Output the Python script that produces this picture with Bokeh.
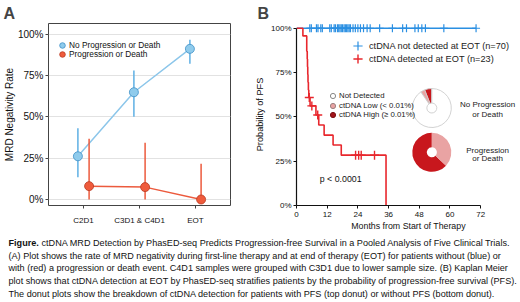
import math
from bokeh.plotting import figure
from bokeh.models import (Range1d, FactorRange, FixedTicker, Legend, LegendItem,
                          ColumnDataSource)
from bokeh.layouts import row, column
from bokeh.transform import dodge
from bokeh.embed import file_html
from bokeh.resources import INLINE
from bokeh.core.properties import value

# ---------------- data: panel A ----------------
timepoints = ["C2D1", "C3D1 & C4D1", "EOT"]
noprog_rate = [26.2, 65.0, 91.3]
noprog_lo = [13.5, 50.1, 82.2]
noprog_hi = [43.2, 78.2, 96.8]
prog_rate = [8.1, 7.5, 0.0]
prog_lo = [0.0, 0.0, 0.0]
prog_hi = [36.8, 34.4, 21.6]
pct_ticks = [0, 25, 50, 75, 100]
pct_labels = ["0%", "25%", "50%", "75%", "100%"]

# ---------------- data: panel B ----------------
month_ticks = [0, 12, 24, 36, 48, 60, 72]
neg_time = [0, 70.2]
neg_surv = [100, 100]
neg_censor_time = [5.2, 5.8, 7.8, 8.4, 9.5, 10.1, 13.0, 13.6, 14.7, 15.2, 16.0, 16.5,
                   17.0, 17.5, 18.0, 18.6, 19.1, 19.6, 20.1, 20.6, 21.1, 22.1, 23.0,
                   24.0, 25.0, 26.2, 27.6, 28.8, 32.5, 37.5, 41.5, 43.0, 46.3, 47.6,
                   49.0, 50.4, 57.6, 70.2]
neg_censor_surv = [100] * len(neg_censor_time)
pos_time = [0, 2.5, 4.0, 4.2, 4.3, 4.4, 4.5, 4.65, 4.8, 5.3, 7.6, 8.7, 10.8, 14.3, 17.5, 35.0]
pos_surv = [100, 95.7, 87.0, 82.6, 78.3, 73.9, 69.6, 65.2, 60.9, 56.2, 51.1, 45.4, 39.7,
            34.1, 28.4, 0.0]
pos_censor_time = [5.0, 6.0, 8.3, 23.1, 24.3, 25.3, 30.5]
pos_censor_surv = [60.9, 56.2, 51.1, 28.4, 28.4, 28.4, 28.4]

ctdna_levels = ["ctDNA High (\u2265 0.01%)", "ctDNA Low (< 0.01%)", "Not Detected"]
share_no_prog = [0.06, 0.035, 0.905]
share_prog = [0.63, 0.37, 0.0]

caption_lines = [
    "ctDNA MRD Detection by PhasED-seq Predicts Progression-free Survival in a Pooled Analysis of Five Clinical Trials.",
    "(A) Plot shows the rate of MRD negativity during first-line therapy and at end of therapy (EOT) for patients without (blue) or",
    "with (red) a progression or death event. C4D1 samples were grouped with C3D1 due to lower sample size. (B) Kaplan Meier",
    "plot shows that ctDNA detection at EOT by PhasED-seq stratifies patients by the probability of progression-free survival (PFS).",
    "The donut plots show the breakdown of ctDNA detection for patients with PFS (top donut) or without PFS (bottom donut).",
]

FONT = "Liberation Sans"
BLUE_A_LINE = "#8cc6ea"
BLUE_A_ERR = "#5fb0e4"
BLUE_A_FILL = "#8fcbec"
BLUE_A_EDGE = "#3d8fc6"
RED_A_LINE = "#ec5a3d"
RED_A_FILL = "#ef5b3c"
RED_A_EDGE = "#b83a22"
KM_BLUE = "#2a8fe2"
KM_RED = "#e8272d"
HIGH = "#c8171d"
LOW = "#e9a3a3"
NAN = float("nan")


def one_legend(fig, label, renderer, loc, glyph, size, standoff, color="#111111"):
    leg = Legend(items=[LegendItem(label=label, renderers=[renderer])], location=loc,
                 padding=0, margin=0, spacing=0, glyph_width=glyph, glyph_height=glyph,
                 label_height=8, label_standoff=standoff, label_text_font=FONT,
                 label_text_font_size=size, label_text_color=color,
                 label_text_baseline="middle",
                 border_line_color=None, background_fill_alpha=0)
    fig.add_layout(leg)


# ================= Panel A =================
pA = figure(width=252, height=236,
            x_range=FactorRange(factors=timepoints, range_padding=0.125,
                                range_padding_units="absolute"),
            y_range=Range1d(-3.64, 106.67),
            output_backend="svg", toolbar_location=None,
            min_border_left=48, min_border_right=22, min_border_top=23, min_border_bottom=31)
srcA = ColumnDataSource(dict(tp=timepoints, nr=noprog_rate, nlo=noprog_lo, nhi=noprog_hi,
                             pr=prog_rate, plo=prog_lo, phi=prog_hi))
xb = dodge("tp", -0.1, range=pA.x_range)
xr = dodge("tp", 0.1, range=pA.x_range)
pA.segment(x0=xb, y0="nlo", x1=xb, y1="nhi", source=srcA, line_color=BLUE_A_ERR, line_width=1.5)
pA.line(x=xb, y="nr", source=srcA, line_color=BLUE_A_LINE, line_width=1.5)
rb = pA.scatter(x=xb, y="nr", source=srcA, size=9, fill_color=BLUE_A_FILL,
                line_color=BLUE_A_EDGE, line_width=0.8)
pA.segment(x0=xr, y0="plo", x1=xr, y1="phi", source=srcA, line_color=RED_A_LINE, line_width=1.5)
pA.line(x=xr, y="pr", source=srcA, line_color=RED_A_LINE, line_width=1.5)
rr = pA.scatter(x=xr, y="pr", source=srcA, size=9, fill_color=RED_A_FILL,
                line_color=RED_A_EDGE, line_width=0.8)

pA.outline_line_color = "#444444"
pA.outline_line_width = 1
pA.xgrid.visible = False
pA.ygrid.grid_line_color = "#e2e2e2"
pA.yaxis.ticker = FixedTicker(ticks=pct_ticks)
pA.yaxis.major_label_overrides = dict(zip(pct_ticks, pct_labels))
for ax in (pA.xaxis[0], pA.yaxis[0]):
    ax.axis_line_color = None
    ax.major_tick_in = 0
    ax.major_tick_out = 3
    ax.major_tick_line_color = "#444444"
    ax.minor_tick_line_color = None
    ax.major_label_text_font = FONT
    ax.major_label_text_color = "#111111"
    ax.major_label_standoff = 2
pA.yaxis.major_label_text_font_size = "10px"
pA.xaxis.major_label_text_font_size = "8px"
pA.xaxis.major_label_standoff = 7
pA.yaxis.axis_label = "MRD Negativity Rate"
pA.yaxis.axis_label_text_font = FONT
pA.yaxis.axis_label_text_font_size = "10px"
pA.yaxis.axis_label_text_font_style = "normal"
pA.yaxis.axis_label_text_color = "#111111"
pA.yaxis.axis_label_standoff = 0

one_legend(pA, "No Progression or Death", rb, (7, 153), 14, "8.3px", -2)
one_legend(pA, "Progression or Death", rr, (7, 144), 14, "8.3px", -2)

pA.title.text = "A"
pA.title.text_font = FONT
pA.title.text_font_size = "16px"
pA.title.text_font_style = "bold"
pA.title.text_line_height = 1.0
pA.title.align = "left"
pA.title.vertical_align = "top"
pA.title.offset = -45
pA.title.standoff = 0

# ================= Panel B =================
pB = figure(width=268, height=236, x_range=Range1d(0, 87.57), y_range=Range1d(0, 102.69),
            output_backend="svg", toolbar_location=None,
            min_border_left=43, min_border_right=0, min_border_top=18, min_border_bottom=27)
pB.line(x=neg_time, y=neg_surv, line_color=KM_BLUE, line_width=1.6)
cb = pB.scatter(x=neg_censor_time, y=neg_censor_surv, marker="cross", size=8,
                line_color=KM_BLUE, line_width=1.2)
pB.step(x=pos_time, y=pos_surv, mode="after", line_color=KM_RED, line_width=1.6)
cr = pB.scatter(x=pos_censor_time, y=pos_censor_surv, marker="cross", size=9,
                line_color=KM_RED, line_width=1.4)

# donuts
DONUT_X = 52.9
DONUT_Y = [55.0, 30.0]
level_colors = [HIGH, LOW, "#ffffff"]
ws, we, wx, wy, wc, wl = [], [], [], [], [], []
for shares, cy, la in ((share_no_prog, DONUT_Y[0], 1.0), (share_prog, DONUT_Y[1], 0.0)):
    a = math.pi / 2
    for s, col in zip(shares, level_colors):
        if s <= 0:
            continue
        ws.append(a)
        a += 2 * math.pi * s
        we.append(a)
        wx.append(DONUT_X)
        wy.append(cy)
        wc.append(col)
        wl.append(la)
srcD = ColumnDataSource(dict(x=wx, y=wy, s=ws, e=we, c=wc, la=wl))
pB.annular_wedge(x="x", y="y", inner_radius=5, outer_radius=19.5,
                 inner_radius_units="screen", outer_radius_units="screen",
                 start_angle="s", end_angle="e", fill_color="c", line_color="#cdcdcd",
                 line_alpha="la", line_width=0.9, source=srcD)

# legend-only keys (no visible data point)
lh = pB.scatter(x=[NAN], y=[NAN], marker="circle", fill_color="#a3141a", line_color="#7a1015")
ll = pB.scatter(x=[NAN], y=[NAN], marker="circle", fill_color=LOW, line_color="#9a8080")
ln = pB.scatter(x=[NAN], y=[NAN], marker="circle", fill_color="white", line_color="#888888")

one_legend(pB, "ctDNA not detected at EOT (n=70)", cb, (50, 148), 23, "9.2px", -1, "#222222")
one_legend(pB, "ctDNA detected at EOT (n=23)", cr, (50, 135), 23, "9.2px", -1, "#222222")
one_legend(pB, ctdna_levels[2], ln, (30, 103), 13, "7.8px", 0, "#222222")
one_legend(pB, ctdna_levels[1], ll, (30, 93), 13, "7.8px", 0, "#222222")
one_legend(pB, ctdna_levels[0], lh, (30, 84), 13, "7.8px", 0, "#222222")

pB.text(x=[74.7, 74.7, 74.7, 74.7], y=[57.0, 51.6, 31.2, 26.3],
        text=["No Progression", "or Death", "Progression", "or Death"],
        text_align="center", text_baseline="middle", text_font=value(FONT),
        text_font_size="8px", text_color="#222222")
pB.text(x=[9.1], y=[14.7], text=["p < 0.0001"], text_align="left", text_baseline="middle",
        text_font=value(FONT), text_font_size="8.8px", text_color="#111111")

pB.title.text = "B"
pB.title.text_font = FONT
pB.title.text_font_size = "16px"
pB.title.text_font_style = "bold"
pB.title.text_line_height = 1.0
pB.title.align = "left"
pB.title.vertical_align = "top"
pB.title.offset = -39
pB.title.standoff = 0

pB.outline_line_color = None
pB.grid.visible = False
pB.xaxis.ticker = FixedTicker(ticks=month_ticks)
pB.yaxis.ticker = FixedTicker(ticks=pct_ticks)
pB.yaxis.major_label_overrides = dict(zip(pct_ticks, pct_labels))
pB.xaxis.bounds = (0, 72)
pB.yaxis.bounds = (0, 100)
pB.xaxis.axis_label = "Months from Start of Therapy"
pB.yaxis.axis_label = "Probability of PFS"
for ax in (pB.xaxis[0], pB.yaxis[0]):
    ax.axis_line_color = "#111111"
    ax.axis_line_width = 1.2
    ax.major_tick_in = 0
    ax.major_tick_out = 3
    ax.major_tick_line_color = "#111111"
    ax.minor_tick_line_color = None
    ax.major_label_text_font = FONT
    ax.major_label_text_font_size = "8px"
    ax.major_label_text_color = "#111111"
    ax.axis_label_text_font = FONT
    ax.axis_label_text_font_style = "normal"
    ax.axis_label_text_color = "#111111"
pB.xaxis.major_label_standoff = 3
pB.xaxis.axis_label_standoff = 1
pB.yaxis.major_label_standoff = 2
pB.yaxis.axis_label_standoff = 3
pB.xaxis.axis_label_text_font_size = "8.8px"
pB.yaxis.axis_label_text_font_size = "9.2px"

# ================= Caption =================
pC = figure(width=520, height=66, x_range=Range1d(0, 520), y_range=Range1d(66, 0),
            output_backend="svg", toolbar_location=None, min_border=0)
pC.axis.visible = False
pC.grid.visible = False
pC.outline_line_color = None
CAP_SIZE = 9.1
CAP_X = 8
line_y = [6, 19, 31.5, 44.5, 57]
pC.text(x=[CAP_X], y=[line_y[0]], text=["Figure."], text_font=value(FONT),
        text_font_style="bold", text_font_size=f"{CAP_SIZE}px", text_baseline="middle",
        text_color="#111111")
pC.text(x=[CAP_X + 33.0], y=[line_y[0]], text=[caption_lines[0]], text_font=value(FONT),
        text_font_size=f"{CAP_SIZE}px", text_baseline="middle", text_color="#111111")
pC.text(x=[CAP_X] * 4, y=line_y[1:], text=caption_lines[1:], text_font=value(FONT),
        text_font_size=f"{CAP_SIZE}px", text_baseline="middle", text_color="#111111")

layout = column(row(pA, pB), pC)
open("out.html", "w").write(file_html(layout, INLINE))
